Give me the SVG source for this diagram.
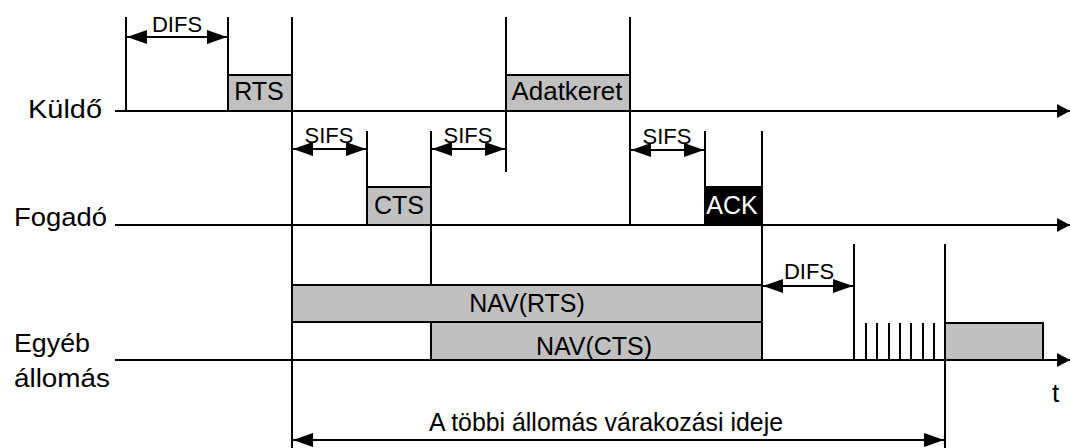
<svg xmlns="http://www.w3.org/2000/svg" width="1070" height="448" viewBox="0 0 1070 448">
<style>
text{font-family:"Liberation Sans",Arial,sans-serif;fill:#000}
.lbl{font-size:26px}
.box{fill:#c0c0c0;stroke:#000;stroke-width:2}
.blk{fill:#000;stroke:#000;stroke-width:2}
.bt{font-size:25px;text-anchor:middle}
.dim{font-size:22px;text-anchor:middle}
.ln{stroke:#000;stroke-width:2;fill:none}
.ax{stroke:#000;stroke-width:2;fill:none;marker-end:url(#ah)}
.da{stroke:#000;stroke-width:2;fill:none;marker-start:url(#ds);marker-end:url(#de)}
</style>
<defs>
<marker id="ah" markerUnits="userSpaceOnUse" markerWidth="14" markerHeight="16" refX="13" refY="8" orient="auto"><path d="M0,1 L13,8 L0,15 Z" fill="#000"/></marker>
<marker id="de" markerUnits="userSpaceOnUse" markerWidth="20" markerHeight="14" refX="20" refY="7" orient="auto"><path d="M0,0 L20,7 L0,14 Z" fill="#000"/></marker>
<marker id="ds" markerUnits="userSpaceOnUse" markerWidth="20" markerHeight="14" refX="0" refY="7" orient="auto"><path d="M20,0 L0,7 L20,14 Z" fill="#000"/></marker>
</defs>
<rect width="1070" height="448" fill="#fff"/>

<g id="connectors">
  <line class="ax" x1="115" y1="111" x2="1070" y2="111"/>
  <line class="ax" x1="115" y1="225" x2="1070" y2="225"/>
  <line class="ax" x1="115" y1="360" x2="1070" y2="360"/>
  <line class="ln" x1="126" y1="17" x2="126" y2="111"/>
  <line class="ln" x1="228" y1="17" x2="228" y2="111"/>
  <line class="ln" x1="292" y1="17" x2="292" y2="448"/>
  <line class="ln" x1="506" y1="17" x2="506" y2="172"/>
  <line class="ln" x1="630" y1="17" x2="630" y2="225"/>
  <line class="ln" x1="367" y1="131" x2="367" y2="225"/>
  <line class="ln" x1="431" y1="131" x2="431" y2="360"/>
  <line class="ln" x1="705" y1="131" x2="705" y2="225"/>
  <line class="ln" x1="762" y1="131" x2="762" y2="360"/>
  <line class="ln" x1="854" y1="244" x2="854" y2="360"/>
  <line class="ln" x1="945" y1="244" x2="945" y2="448"/>
  <g class="ln">
    <line x1="866" y1="323" x2="866" y2="360"/>
    <line x1="877" y1="323" x2="877" y2="360"/>
    <line x1="889" y1="323" x2="889" y2="360"/>
    <line x1="900" y1="323" x2="900" y2="360"/>
    <line x1="911" y1="323" x2="911" y2="360"/>
    <line x1="923" y1="323" x2="923" y2="360"/>
    <line x1="934" y1="323" x2="934" y2="360"/>
  </g>
  <line class="da" x1="127" y1="37" x2="227" y2="37"/>
  <line class="da" x1="293" y1="149" x2="366" y2="149"/>
  <line class="da" x1="432" y1="149" x2="505" y2="149"/>
  <line class="da" x1="631" y1="150" x2="704" y2="150"/>
  <line class="da" x1="763" y1="286" x2="853" y2="286"/>
  <line class="da" x1="293" y1="440" x2="944" y2="440"/>
</g>

<g id="label-kuldo"><text class="lbl" x="28" y="118" textLength="74" lengthAdjust="spacingAndGlyphs">Küldő</text></g>
<g id="label-fogado"><text class="lbl" x="14" y="226" textLength="93" lengthAdjust="spacingAndGlyphs">Fogadó</text></g>
<g id="label-egyeb"><text class="lbl" x="14" y="352" textLength="76" lengthAdjust="spacingAndGlyphs">Egyéb</text><text class="lbl" x="14" y="387" textLength="96" lengthAdjust="spacingAndGlyphs">állomás</text></g>
<g id="label-t"><text class="lbl" x="1052" y="402">t</text></g>

<g id="rts"><rect class="box" x="228" y="75" width="64" height="36"/><text class="bt" x="259" y="100">RTS</text></g>
<g id="adatkeret"><rect class="box" x="506" y="75" width="124" height="36"/><text class="bt" x="567" y="100" textLength="111" lengthAdjust="spacingAndGlyphs">Adatkeret</text></g>
<g id="cts"><rect class="box" x="367" y="187" width="64" height="38"/><text class="bt" x="399" y="214">CTS</text></g>
<g id="ack"><rect class="blk" x="705" y="187" width="57" height="38"/><text class="bt" x="732" y="214" style="fill:#fff">ACK</text></g>
<g id="nav-rts"><rect class="box" x="292" y="285" width="470" height="37"/><text class="bt" x="527" y="312" font-size="26">NAV(RTS)</text></g>
<g id="nav-cts"><rect class="box" x="431" y="322" width="331" height="38"/><text class="bt" x="594" y="355" font-size="26">NAV(CTS)</text></g>
<g id="next-frame"><rect class="box" x="945" y="323" width="98" height="37"/></g>

<g id="dim-labels">
  <text class="dim" x="177" y="32">DIFS</text>
  <text class="dim" x="329" y="143">SIFS</text>
  <text class="dim" x="468" y="143">SIFS</text>
  <text class="dim" x="667" y="144">SIFS</text>
  <text class="dim" x="809" y="279">DIFS</text>
  <text x="606" y="431" font-size="25" text-anchor="middle" textLength="354" lengthAdjust="spacingAndGlyphs">A többi állomás várakozási ideje</text>
</g>
</svg>
